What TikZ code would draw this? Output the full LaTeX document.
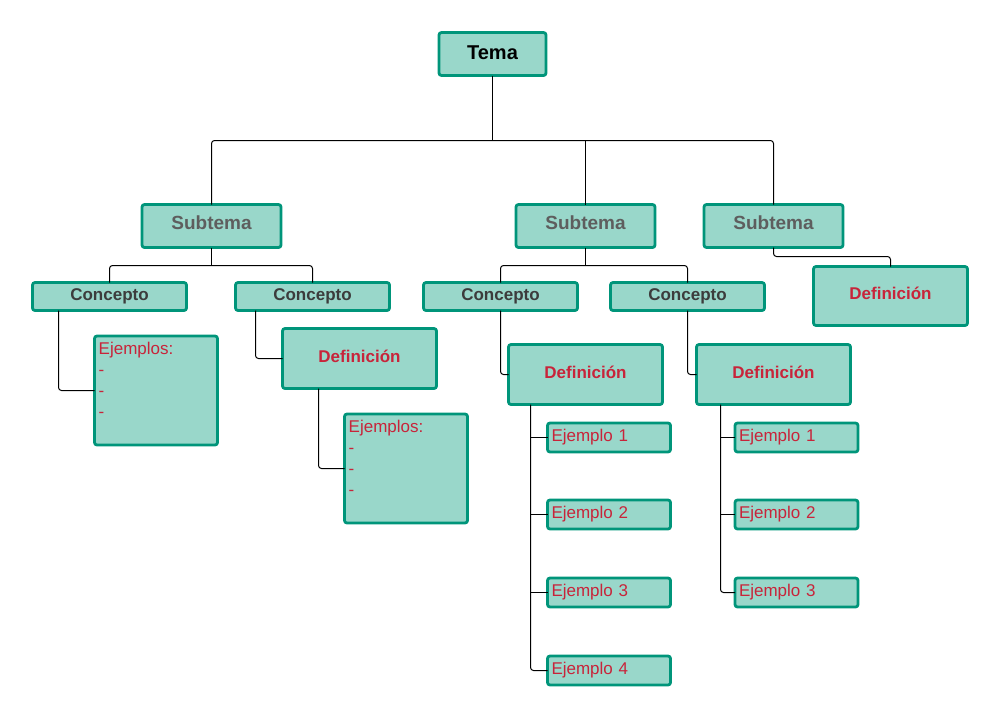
\documentclass[tikz,border=0pt]{standalone}
\usepackage{fontspec}
\setmainfont{Liberation Sans}
\usetikzlibrary{calc}
\definecolor{boxfill}{HTML}{99D7CA}
\definecolor{boxline}{HTML}{00957A}
\definecolor{defred}{HTML}{C8243A}
\definecolor{subgray}{HTML}{5E5E5E}
\definecolor{concgray}{HTML}{3C3C3C}
\begin{document}
\begin{tikzpicture}[x=1pt,y=-1pt,
  box/.style={draw=boxline, fill=boxfill, line width=2.8pt, rounded corners=2.5pt, inner sep=0pt, outer sep=0pt},
  temabox/.style={box, minimum width=107, minimum height=43, text height=14pt, text depth=4pt, font=\fontsize{20}{24}\selectfont\bfseries, text=black},
  subbox/.style={box, minimum width=139, minimum height=43, text height=13pt, text depth=5.4pt, font=\fontsize{19}{23}\selectfont\bfseries, text=subgray},
  concbox/.style={box, minimum width=154, minimum height=28, text height=12pt, text depth=5pt, font=\fontsize{17}{21}\selectfont\bfseries, text=concgray},
  defbox/.style={box, minimum width=154, minimum height=60, text height=12pt, text depth=5pt, font=\fontsize{17}{21}\selectfont\bfseries, text=defred},
  listbox/.style={box, minimum width=123, minimum height=109},
  listtext/.style={anchor=north west, inner sep=0pt, align=left, text=defred, font=\fontsize{17}{21}\selectfont},
  exbox/.style={box, minimum height=29, text width=115, inner xsep=4pt, align=left, text=defred, font=\fontsize{17}{21}\selectfont},
  link/.style={draw=black, line width=1pt, rounded corners=3pt},
  tlink/.style={draw=black, line width=1pt}]
\useasboundingbox (0,0) rectangle (1000,718);

% nodes
\node[temabox] (tema) at (492.5,54) {Tema};
\node[subbox] (sub1) at (211.5,226) {Subtema};
\node[subbox] (sub2) at (585.5,226) {Subtema};
\node[subbox] (sub3) at (773.5,226) {Subtema};

\node[concbox] (conc1) at (109.5,296.5) {Concepto};
\node[concbox] (conc2) at (312.5,296.5) {Concepto};
\node[concbox] (conc3) at (500.5,296.5) {Concepto};
\node[concbox] (conc4) at (687.5,296.5) {Concepto};

\node[defbox, minimum height=59] (defR) at (890.5,296) {Definición};
\node[defbox] (def2) at (359.5,358.5) {Definición};
\node[defbox] (def3) at (585.5,374.5) {Definición};
\node[defbox] (def4) at (773.5,374.5) {Definición};

\node[listbox] (ejb1) at (156,390.5) {};
\node[listtext] (ejt1) at ($(ejb1.north west)+(4,5.5)$) {Ejemplos:\\-\\-\\-};
\node[listbox] (ejb2) at (406,468.5) {};
\node[listtext] (ejt2) at ($(ejb2.north west)+(4,5.5)$) {Ejemplos:\\-\\-\\-};

\node[exbox] (e31) at (609,437.5) {Ejemplo 1};
\node[exbox] (e32) at (609,514.5) {Ejemplo 2};
\node[exbox] (e33) at (609,592.5) {Ejemplo 3};
\node[exbox] (e34) at (609,670.5) {Ejemplo 4};

\node[exbox] (e41) at (796.5,437.5) {Ejemplo 1};
\node[exbox] (e42) at (796.5,514.5) {Ejemplo 2};
\node[exbox] (e43) at (796.5,592.5) {Ejemplo 3};

% connectors
\coordinate (b1) at (492.5,140.5);
\draw[tlink] (tema.south) -- (b1);
\draw[link] (sub1.north) -- (sub1.north |- b1) -- (sub3.north |- b1) -- (sub3.north);
\draw[tlink] (b1 -| sub2.north) -- (sub2.north);

\coordinate (b2) at (211.5,265.5);
\draw[tlink] (sub1.south) -- (b2);
\draw[link] (conc1.north) -- (conc1.north |- b2) -- (conc2.north |- b2) -- (conc2.north);

\coordinate (b3) at (585.5,265.5);
\draw[tlink] (sub2.south) -- (b3);
\draw[link] (conc3.north) -- (conc3.north |- b3) -- (conc4.north |- b3) -- (conc4.north);

\draw[link] (sub3.south) -- ++(0,9) -| (defR.north);

\draw[link] ($(conc1.south west)+(26,0)$) |- (ejb1.west);
\draw[link] ($(conc2.south west)+(20,0)$) |- (def2.west);
\draw[link] ($(def2.south west)+(36,0)$) |- (ejb2.west);
\draw[link] (conc3.south) |- (def3.west);
\draw[link] (conc4.south) |- (def4.west);

\coordinate (d3) at ($(def3.south west)+(22,0)$);
\draw[link] (d3) |- (e34.west);
\draw[tlink] (d3 |- e31.west) -- (e31.west);
\draw[tlink] (d3 |- e32.west) -- (e32.west);
\draw[tlink] (d3 |- e33.west) -- (e33.west);

\coordinate (d4) at ($(def4.south west)+(24,0)$);
\draw[link] (d4) |- (e43.west);
\draw[tlink] (d4 |- e41.west) -- (e41.west);
\draw[tlink] (d4 |- e42.west) -- (e42.west);
\end{tikzpicture}
\end{document}
